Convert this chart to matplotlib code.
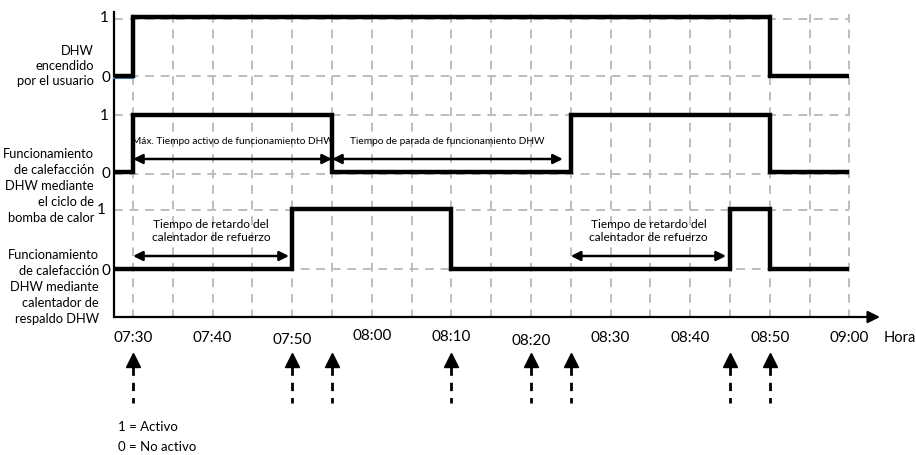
import matplotlib
matplotlib.use('Agg')
import matplotlib.pyplot as plt

plt.rcParams['font.family'] = ['Lato', 'DejaVu Sans']

# time in minutes after 07:30
tick_min    = [0, 10, 20, 30, 40, 50, 60, 70, 80, 90]
tick_labels = ['07:30', '07:40', '07:50', '08:00', '08:10', '08:20',
               '08:30', '08:40', '08:50', '09:00']
tick_dy     = [0, 0, 2, -2, -1, 3, 0, 0, 0, 0]

# signals: breakpoints (minutes) and state (1 = Activo, 0 = No activo)
user_t = [-2.4, 0, 80, 90]
user_s = [0, 1, 0, 0]
hp_t   = [-2.4, 0, 25, 55, 80, 90]
hp_s   = [0, 1, 0, 1, 0, 0]
bk_t   = [-2.4, 20, 40, 75, 80, 90]
bk_s   = [0, 1, 0, 1, 0, 0]

event_min = [0, 20, 25, 40, 50, 55, 75, 80]

row_names = ['DHW\nencendido\npor el usuario',
             'Funcionamiento\nde calefacción\nDHW mediante\nel ciclo de\nbomba de calor',
             'Funcionamiento\nde calefacción\nDHW mediante\ncalentador de\nrespaldo DHW']

# intervals: (start, end, row, label)
spans = [(0, 25, 1, 'Máx. Tiempo activo de funcionamiento DHW'),
         (25, 54, 1, 'Tiempo de parada de funcionamiento DHW'),
         (0, 19.6, 2, 'Tiempo de retardo del\ncalentador de refuerzo'),
         (55, 74.5, 2, 'Tiempo de retardo del\ncalentador de refuerzo')]

# layout (pixel rows) --------------------------------------------------
X0, PX = 133, 7.96
levels = [(18, 77), (116, 173), (210, 270)]   # y of state 1, state 0
grid_y = [20, 77, 116, 175, 211, 270]
AXIS_Y = 318
YAX_M = (114 - X0) / PX

fig = plt.figure(figsize=(9.16, 4.56), dpi=100, facecolor='white')
ax = fig.add_axes([0, 0, 1, 1])
ax.set_xlim(-X0 / PX, (916 - X0) / PX)
ax.set_ylim(456, 0)
ax.axis('off')

GRID = '#bdbdbd'
# grid
for m in range(0, 95, 5):
    ax.plot([m, m], [15, AXIS_Y], color=GRID, lw=1.4, ls=(0, (4.5, 3.5)), zorder=1)
for gy in grid_y:
    ax.plot([YAX_M, 90], [gy, gy], color=GRID, lw=1.4, ls=(0, (4.5, 3.5)), zorder=1)

# axes
ax.plot([YAX_M, YAX_M], [13, AXIS_Y], color='black', lw=1.6, zorder=3)
ax.annotate('', xy=((880 - X0) / PX, AXIS_Y), xytext=(YAX_M, AXIS_Y),
            arrowprops=dict(arrowstyle='-|>', color='black', lw=1.6,
                            mutation_scale=18, shrinkA=0, shrinkB=0), zorder=3)

# signals
ax.plot([YAX_M, 0], [79, 79], color='#4a90d9', lw=1.5, zorder=3)
for (t, s), (y1, y0) in zip([(user_t, user_s), (hp_t, hp_s), (bk_t, bk_s)], levels):
    ys = [y0 + v * (y1 - y0) for v in s]
    ax.plot(t, ys, drawstyle='steps-post', color='black', lw=3.2,
            solid_joinstyle='miter', solid_capstyle='butt', zorder=4)

# row labels and 1/0 marks
label_y = [66, 186, 287]
label_x = [94, 94, 99]
label_ls = [1.3, 1.42, 1.38]
one_x = [104, 104, 101]
for name, ly, lx, ls, ox, (y1, y0) in zip(row_names, label_y, label_x, label_ls,
                                          one_x, levels):
    ax.text((lx - X0) / PX, ly, name, ha='right', va='center', fontsize=9.3,
            linespacing=ls)
    ax.text((ox - X0) / PX, y1, '1', ha='center', va='center', fontsize=11)
    ax.text((106 - X0) / PX, y0 + 1, '0', ha='center', va='center', fontsize=11)

# interval arrows
for a, b, r, lab in spans:
    y1, y0 = levels[r]
    ay = y0 - 13
    ax.annotate('', xy=(b, ay), xytext=(a, ay),
                arrowprops=dict(arrowstyle='<|-|>', color='black', lw=1.8,
                                mutation_scale=14, shrinkA=0, shrinkB=0), zorder=5)
    nl = lab.count('\n')
    if nl == 0:
        ax.text((a + b) / 2, ay - 18, lab, ha='center', va='center', fontsize=7.3)
    else:
        ax.text((a + b) / 2, ay - 26, lab, ha='center', va='center',
                fontsize=8.6, linespacing=1.3)

# tick labels
for m, lab, dy in zip(tick_min, tick_labels, tick_dy):
    ax.text(m, 338 + dy, lab, ha='center', va='center', fontsize=11)
ax.text((884 - X0) / PX, 338, 'Hora', ha='left', va='center', fontsize=10.5)

# event arrows
for m in event_min:
    ax.plot([m, m], [368, 404], color='black', lw=2, ls=(0, (3, 2.5)), zorder=3)
    ax.plot([m], [361], marker='^', markersize=10, color='black', zorder=3)

ax.text((118 - X0) / PX, 427, '1 = Activo', ha='left', va='center', fontsize=9.5)
ax.text((118 - X0) / PX, 447, '0 = No activo', ha='left', va='center', fontsize=9.5)

fig.savefig('out.png', dpi=100, facecolor='white')
